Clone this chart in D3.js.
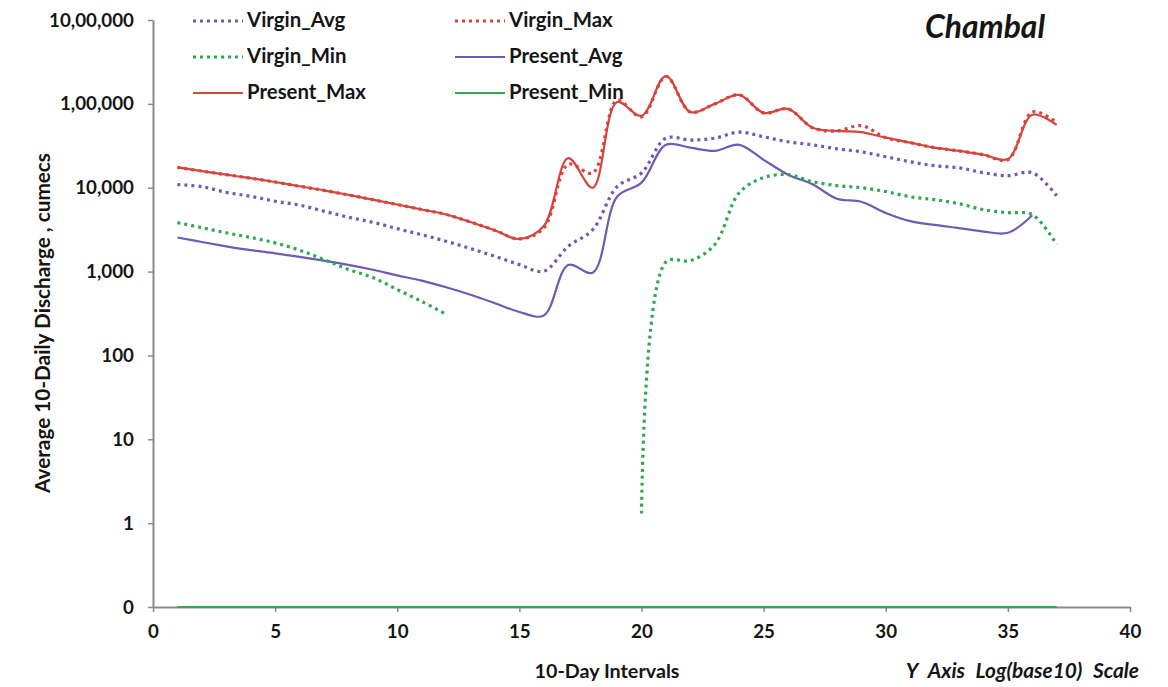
<!DOCTYPE html>
<html>
<head>
<meta charset="utf-8">
<script src="https://cdn.jsdelivr.net/npm/d3@7"></script>
<style>
  html, body { margin: 0; padding: 0; background: #fff; }
  svg { display: block; }
  text { font-family: Lato, "Open Sans", sans-serif; font-weight: 700; fill: #151515; }
</style>
</head>
<body>
<svg id="chart" width="1168" height="687"></svg>
<script>
// 10-day interval index (x axis)
const intervals = [1,2,3,4,5,6,7,8,9,10,11,12,13,14,15,16,17,18,19,20,21,22,23,24,25,26,27,28,29,30,31,32,33,34,35,36,37];

// Average 10-daily discharge, cumecs (null = no value)
const virginAvg = [10900,10300,8800,7900,6900,6200,5250,4450,3870,3250,2750,2300,1880,1520,1210,1010,2000,3150,10300,15000,39000,37000,39000,46000,40500,35300,32500,29100,26800,23400,20400,18300,17300,15100,13900,15100,8000];
const virginMax = [17500,15800,14300,13000,11700,10400,9300,8200,7200,6300,5500,4800,3900,3100,2450,3300,19000,15000,110000,70000,212000,80000,100000,128000,78000,87000,52000,47500,55000,39500,34500,30000,27500,24700,21500,80000,60000];
const virginMin = [3830,3340,2900,2550,2200,1800,1390,1060,850,610,440,310,null,null,null,null,null,null,null,1.3,1300,1350,2100,8700,13200,14300,11800,10600,10000,9000,7800,7200,6450,5470,5040,4770,2100];
const presentAvg = [2550,2250,2000,1800,1650,1500,1350,1200,1050,900,780,650,530,420,330,300,1200,970,7800,11500,32500,30000,27500,32500,21500,14300,11000,7400,6800,5000,4000,3600,3300,3000,2900,4700,null];
const presentMax = [17500,15800,14300,13000,11700,10400,9300,8200,7200,6300,5500,4800,3900,3100,2450,3500,22500,10000,105000,72000,215000,80000,100000,128000,78000,87000,52000,47500,46000,39500,34500,30000,27500,24700,22000,74000,56000];
const presentMin = [0,0,0,0,0,0,0,0,0,0,0,0,0,0,0,0,0,0,0,0,0,0,0,0,0,0,0,0,0,0,0,0,0,0,0,0,0];

// Axis ticks
const xTicks = [0,5,10,15,20,25,30,35,40];
const yTicks = [0.1,1,10,100,1000,10000,100000,1000000];
const yTickLabels = ["0","1","10","100","1,000","10,000","1,00,000","10,00,000"];

const svg = d3.select("#chart");
const x = d3.scaleLinear().domain([0, 40]).range([153, 1130]);
const yFloor = 0.1;
const y = d3.scaleLog().domain([yFloor, 1e6]).range([607, 20]);

const RED = "#d5453c", PURPLE = "#6a5db3", GREEN = "#2fa84f";

// scale a text's font size so that it spans the given width
function fitSize(sel, width) {
  const base = 20;
  sel.style("font-size", base + "px");
  const w = sel.node().getComputedTextLength();
  const size = base * width / w;
  sel.style("font-size", size + "px");
  return size;
}

// Axes
const yAxis = svg.append("g").attr("transform", `translate(${x(0)},0)`)
  .call(d3.axisLeft(y).tickValues(yTicks).tickFormat((d, i) => yTickLabels[i]).tickSize(5).tickSizeOuter(0));
const xAxis = svg.append("g").attr("transform", `translate(0,${y(yFloor)})`)
  .call(d3.axisBottom(x).tickValues(xTicks).tickSize(5).tickSizeOuter(0));
[yAxis, xAxis].forEach(g => {
  g.select(".domain").attr("stroke", "#8a8a8a").attr("stroke-width", 2);
  g.selectAll(".tick line").attr("stroke", "#8a8a8a").attr("stroke-width", 1.5);
  g.selectAll(".tick text").attr("font-family", null).attr("font-size", null).attr("fill", "#151515");
});
const topLabel = yAxis.selectAll(".tick text").filter((d, i) => i === yTicks.length - 1);
const tickSize = fitSize(topLabel, 85);
yAxis.selectAll(".tick text").style("font-size", tickSize + "px").attr("x", -19);
xAxis.selectAll(".tick text").style("font-size", tickSize + "px").attr("y", 18);

// Series
const series = [
  { name: "Virgin_Avg",  values: virginAvg,  color: PURPLE, dotted: true },
  { name: "Virgin_Max",  values: virginMax,  color: RED,    dotted: true },
  { name: "Virgin_Min",  values: virginMin,  color: GREEN,  dotted: true },
  { name: "Present_Avg", values: presentAvg, color: PURPLE, dotted: false },
  { name: "Present_Max", values: presentMax, color: RED,    dotted: false },
  { name: "Present_Min", values: presentMin, color: GREEN,  dotted: false }
];

const line = d3.line()
  .defined(d => d.v !== null)
  .x(d => x(d.t))
  .y(d => y(Math.max(d.v, yFloor)))
  .curve(d3.curveCatmullRom.alpha(0.5));

// solid lines first, dotted ones on top
const drawOrder = [5, 3, 4, 2, 0, 1];
drawOrder.forEach(i => {
  const s = series[i];
  const pts = intervals.map((t, k) => ({ t, v: s.values[k] }));
  svg.append("path")
    .datum(pts)
    .attr("fill", "none")
    .attr("stroke", s.color)
    .attr("stroke-width", s.dotted ? 3.2 : 2.2)
    .attr("stroke-dasharray", s.dotted ? "3 4" : null)
    .attr("d", line);
});

// Legend (3 rows x 2 columns)
const legendCols = [193, 455];
const legendRows = [21, 57, 93];
const legendTexts = [];
series.forEach((s, i) => {
  const lx = legendCols[i % 2], ly = legendRows[Math.floor(i / 2)];
  svg.append("line")
    .attr("x1", lx).attr("x2", lx + 50).attr("y1", ly).attr("y2", ly)
    .attr("stroke", s.color)
    .attr("stroke-width", s.dotted ? 3.2 : 2.2)
    .attr("stroke-dasharray", s.dotted ? "3 4" : null);
  legendTexts.push(svg.append("text")
    .attr("x", lx + 54).attr("y", ly + 6)
    .text(s.name));
});
const legendSize = fitSize(legendTexts[4], 119);
legendTexts.forEach(t => t.style("font-size", legendSize + "px"));

// Titles
const title = svg.append("text").attr("x", 1045).attr("y", 38).attr("text-anchor", "end")
  .style("font-style", "italic").text("Chambal");
fitSize(title, 120);
const yTitle = svg.append("text").attr("transform", "translate(50,323) rotate(-90)").attr("text-anchor", "middle")
  .text("Average 10-Daily Discharge , cumecs");
fitSize(yTitle, 340);
const xTitle = svg.append("text").attr("x", 607).attr("y", 678).attr("text-anchor", "middle")
  .text("10-Day Intervals");
fitSize(xTitle, 145);
const note = svg.append("text").attr("x", 1139).attr("y", 678).attr("text-anchor", "end")
  .style("font-style", "italic").style("word-spacing", "6px")
  .text("Y Axis Log(base10) Scale");
fitSize(note, 234);
</script>
</body>
</html>
